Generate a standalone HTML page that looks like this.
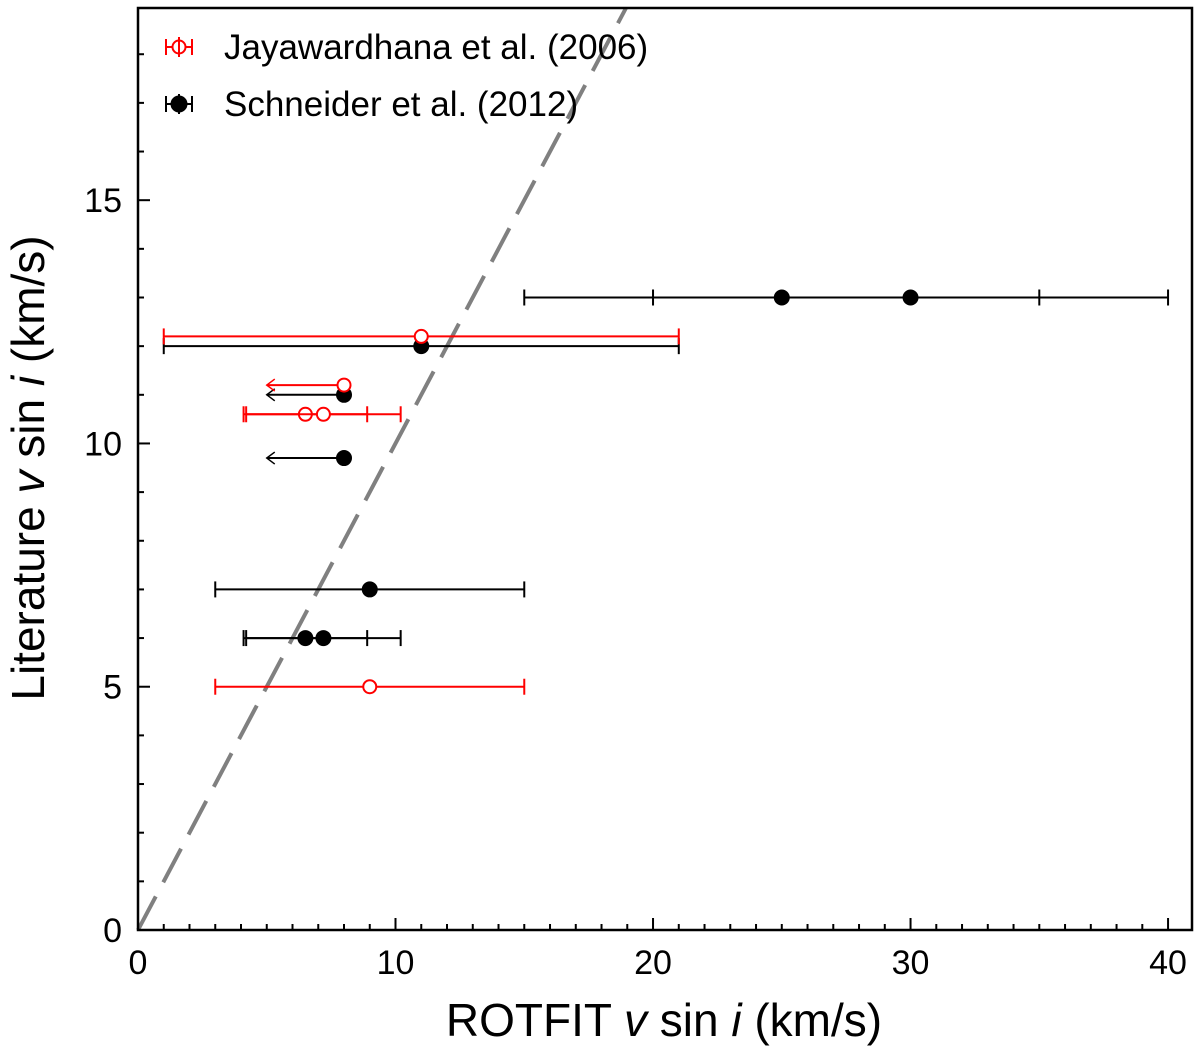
<!DOCTYPE html>
<html><head><meta charset="utf-8"><style>
html,body{margin:0;padding:0;background:#fff;}
svg text{font-family:"Liberation Sans","DejaVu Sans",sans-serif;}
</style></head><body>
<svg id="chart" width="1200" height="1053" xmlns="http://www.w3.org/2000/svg"></svg>
<script>
// Data
const schX = [25, 30, 11, 8, 8, 9, 6.5, 7.2];
const schY = [13, 13, 12, 11, 9.7, 7, 6, 6];
const schXerr = [10, 10, 10, 0, 0, 6, 2.4, 3];
const schLimit = [false, false, false, true, true, false, false, false];
const jayX = [9, 11, 8, 6.5, 7.2];
const jayY = [5, 12.2, 11.2, 10.6, 10.6];
const jayXerr = [6, 10, 0, 2.4, 3];
const jayLimit = [false, false, true, false, false];
const xTicks = [0, 10, 20, 30, 40];
const yTicks = [0, 5, 10, 15];
const limitLen = 3;

const L=138,R=1192,T=8,B=930, XMAX=40.93, YMAX=18.95;
const sx = v => L + v/XMAX*(R-L);
const sy = v => B - v/YMAX*(B-T);
const svg = document.getElementById('chart');
const NS='http://www.w3.org/2000/svg';
function mk(tag, attrs, parent){const e=document.createElementNS(NS,tag);for(const k in attrs)e.setAttribute(k,attrs[k]);(parent||svg).appendChild(e);return e;}

const dl = mk('line',{x1:sx(0),y1:sy(0),x2:sx(YMAX),y2:sy(YMAX),stroke:'#808080','stroke-width':4,'stroke-dasharray':'38,16'});



function series(xs, ys, errs, lims, color, filled, name){
  const g = mk('g',{});
  
  
  for(let i=0;i<xs.length;i++){
    const y=sy(ys[i]);
    if(lims[i]){
      const x0=sx(xs[i]-limitLen), x1=sx(xs[i]);
      mk('line',{x1:x0,y1:y,x2:x1,y2:y,stroke:color,'stroke-width':2},g);
      mk('polyline',{points:`${x0+8},${y-6} ${x0},${y} ${x0+8},${y+6}`,fill:'none',stroke:color,'stroke-width':1.5},g);
    } else {
      const x0=sx(xs[i]-errs[i]), x1=sx(xs[i]+errs[i]);
      mk('line',{x1:x0,y1:y,x2:x1,y2:y,stroke:color,'stroke-width':2},g);
      mk('line',{x1:x0,y1:y-8,x2:x0,y2:y+8,stroke:color,'stroke-width':2},g);
      mk('line',{x1:x1,y1:y-8,x2:x1,y2:y+8,stroke:color,'stroke-width':2},g);
    }
    const c = mk('circle',{cx:sx(xs[i]),cy:y,r:filled?7.5:6.5,fill:filled?color:'#fff',stroke:color,'stroke-width':filled?1:2},g);
    
    
  }
}
series(schX,schY,schXerr,schLimit,'#000',true,'schneider-series');
series(jayX,jayY,jayXerr,jayLimit,'#f00',false,'jayawardhana-series');

const fr = mk('rect',{x:L,y:T,width:R-L,height:B-T,fill:'none',stroke:'#000','stroke-width':2.5});



for(let v=1; v<=40; v++){ if(v%10) mk('line',{x1:sx(v),y1:B,x2:sx(v),y2:B-6,stroke:'#000','stroke-width':2}); }
for(let v=1; v<=18; v++){ if(v%5) mk('line',{x1:L,y1:sy(v),x2:L+6,y2:sy(v),stroke:'#000','stroke-width':2}); }
xTicks.forEach(v=>{
  mk('line',{x1:sx(v),y1:B,x2:sx(v),y2:B-12,stroke:'#000','stroke-width':2});
  const t=mk('text',{x:sx(v),y:B+44,'font-size':34,'text-anchor':'middle'}); t.textContent=v;
  
  
});
yTicks.forEach(v=>{
  mk('line',{x1:L,y1:sy(v),x2:L+12,y2:sy(v),stroke:'#000','stroke-width':2});
  const t=mk('text',{x:L-16,y:sy(v)+12,'font-size':34,'text-anchor':'end'}); t.textContent=v;
  
  
});

const xt = mk('text',{x:664,y:1036,'font-size':46,'text-anchor':'middle'});
xt.innerHTML='ROTFIT <tspan font-style="italic">v</tspan> sin <tspan font-style="italic">i</tspan> (km/s)';


const yt = mk('text',{x:0,y:0,'font-size':46,'text-anchor':'middle',transform:'translate(44,468) rotate(-90)'});
yt.innerHTML='Literature <tspan font-style="italic">v</tspan> sin <tspan font-style="italic">i</tspan> (km/s)';



function legend(y, color, filled, label, name){
  const g=mk('g',{});
  
  
  mk('line',{x1:166,y1:y,x2:192,y2:y,stroke:color,'stroke-width':2},g);
  mk('line',{x1:166,y1:y-8,x2:166,y2:y+8,stroke:color,'stroke-width':2},g);
  mk('line',{x1:192,y1:y-8,x2:192,y2:y+8,stroke:color,'stroke-width':2},g);
  mk('circle',{cx:179,cy:y,r:filled?7.5:6.5,fill:filled?color:'#fff',stroke:color,'stroke-width':2},g);
  mk('line',{x1:179,y1:y-10,x2:179,y2:y+10,stroke:color,'stroke-width':2},g);
  const t=mk('text',{x:224,y:y+12,'font-size':35},g); t.textContent=label;
}
legend(47,'#f00',false,'Jayawardhana et al. (2006)','legend-entry-jayawardhana');
legend(104,'#000',true,'Schneider et al. (2012)','legend-entry-schneider');
</script>
</body></html>
